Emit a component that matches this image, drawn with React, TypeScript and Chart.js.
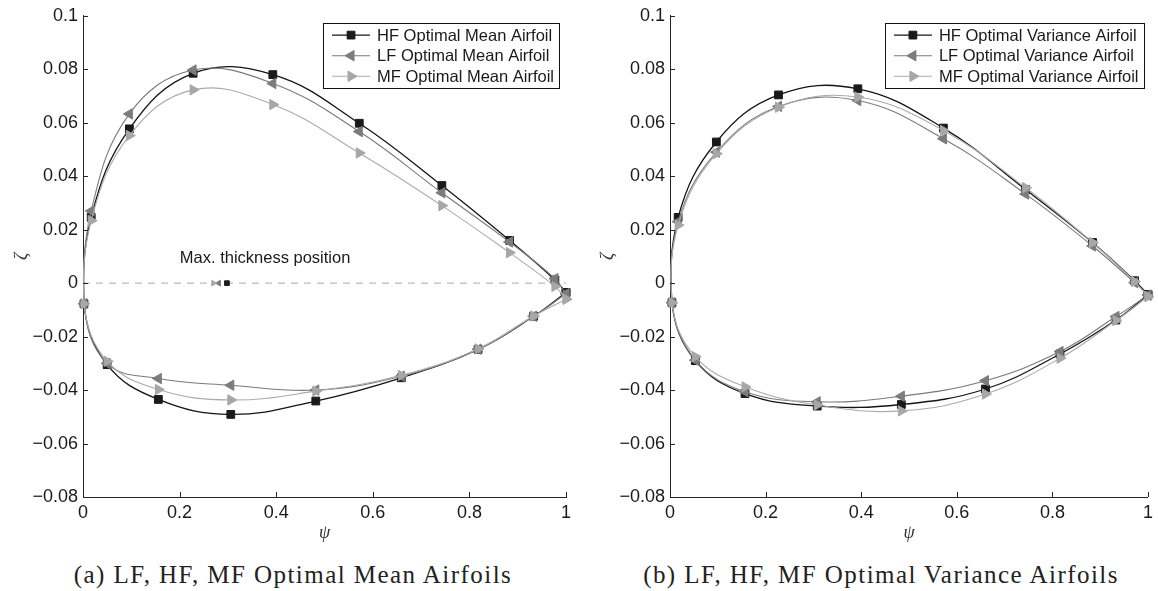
import React, { useEffect, useRef } from "react";
import { Chart, registerables } from "chart.js";
import { drawPoint } from "chart.js/helpers";

Chart.register(...registerables);

// ---------------- data ----------------
// tick labels
const xTickValues = [0, 0.2, 0.4, 0.6, 0.8, 1];
const yTickValues = [-0.08, -0.06, -0.04, -0.02, 0, 0.02, 0.04, 0.06, 0.08, 0.1];

// Panel (a): optimal mean airfoils
// upper surface stations from trailing edge to leading edge, lower surface from leading edge to trailing edge
const meanUpperX = [1.0, 0.977, 0.883, 0.743, 0.572, 0.393, 0.228, 0.096, 0.017];
const meanLowerX = [0.002, 0.05, 0.156, 0.306, 0.482, 0.659, 0.818, 0.933, 1.0];
const meanHfUpper = [-0.0035, 0.0012, 0.016, 0.0365, 0.0598, 0.078, 0.0785, 0.0577, 0.0246];
const meanLfUpper = [-0.004, 0.0017, 0.0154, 0.0338, 0.0567, 0.0747, 0.0797, 0.0633, 0.027];
const meanMfUpper = [-0.006, -0.0012, 0.0114, 0.029, 0.0487, 0.0668, 0.0723, 0.0552, 0.0234];
const meanHfLower = [-0.0077, -0.0305, -0.0435, -0.0491, -0.0441, -0.0354, -0.0248, -0.0124, -0.0035];
const meanLfLower = [-0.0077, -0.03, -0.0357, -0.0382, -0.04, -0.0348, -0.0247, -0.0124, -0.004];
const meanMfLower = [-0.0077, -0.0292, -0.0398, -0.0437, -0.0404, -0.0345, -0.0246, -0.0123, -0.006];
// max thickness positions (psi) for HF, LF, MF
const meanMaxThickness = [0.298, 0.281, 0.27];
const thicknessLineX = [0, 1];
const thicknessLineY = [0, 0];
const noteText = "Max. thickness position";
const notePos = [0.377, 0.0094];

// Panel (b): optimal variance airfoils
const varUpperX = [1.0, 0.972, 0.884, 0.744, 0.572, 0.393, 0.227, 0.097, 0.017];
const varLowerX = [0.004, 0.053, 0.157, 0.308, 0.484, 0.66, 0.816, 0.933, 1.0];
const varHfUpper = [-0.0043, 0.0009, 0.0152, 0.035, 0.058, 0.0727, 0.0704, 0.0528, 0.0246];
const varLfUpper = [-0.0045, 0.0002, 0.0139, 0.0333, 0.054, 0.0683, 0.0661, 0.049, 0.023];
const varMfUpper = [-0.005, 0.0006, 0.0152, 0.0357, 0.0571, 0.0696, 0.0658, 0.0484, 0.0217];
const varHfLower = [-0.0073, -0.029, -0.0413, -0.046, -0.0454, -0.0396, -0.0265, -0.0138, -0.0043];
const varLfLower = [-0.0073, -0.0288, -0.0406, -0.0444, -0.0423, -0.0365, -0.0256, -0.0125, -0.0045];
const varMfLower = [-0.0073, -0.0275, -0.0388, -0.0456, -0.0478, -0.0415, -0.0281, -0.014, -0.005];

const meanLabels = ["HF Optimal Mean Airfoil", "LF Optimal Mean Airfoil", "MF Optimal Mean Airfoil"];
const varLabels = ["HF Optimal Variance Airfoil", "LF Optimal Variance Airfoil", "MF Optimal Variance Airfoil"];
const captions = ["(a) LF, HF, MF Optimal Mean Airfoils", "(b) LF, HF, MF Optimal Variance Airfoils"];

// ---------------- styles ----------------
const SANS = "'Liberation Sans', Arial, Helvetica, sans-serif";
const SERIF = "'Liberation Serif', 'Times New Roman', serif";
const AXIS_COLOR = "#262626";
const TEXT_COLOR = "#1a1a1a";

type Sty = { line: string; fill: string; marker: string; rot: number; r: number; lw: number; order: number };
const STYLES: Sty[] = [
  { line: "#141414", fill: "#1a1a1a", marker: "rect", rot: 0, r: 5.5, lw: 1.3, order: 3 },
  { line: "#7a7a7a", fill: "#7c7c7c", marker: "triangle", rot: -90, r: 6, lw: 1.1, order: 2 },
  { line: "#ababab", fill: "#a7a7a7", marker: "triangle", rot: 90, r: 6, lw: 1.1, order: 1 },
];

function zip(xs: number[], ys: number[]) {
  return xs.map((x, i) => ({ x, y: ys[i] }));
}

function airfoil(label: string, upX: number[], upY: number[], loX: number[], loY: number[], s: Sty) {
  return {
    label,
    data: zip(upX.concat(loX), upY.concat(loY)),
    showLine: true,
    borderColor: s.line,
    backgroundColor: s.fill,
    pointBackgroundColor: s.fill,
    pointBorderColor: s.fill,
    pointBorderWidth: 1,
    pointStyle: s.marker,
    pointRotation: s.rot,
    pointRadius: s.r,
    borderWidth: s.lw,
    tension: 0.4,
    clip: false,
    order: s.order,
    inLegend: true,
  };
}

function marker(x: number, s: Sty) {
  return {
    label: "",
    data: [{ x, y: 0 }],
    showLine: false,
    backgroundColor: s.fill,
    borderColor: s.fill,
    pointBackgroundColor: s.fill,
    pointBorderColor: s.fill,
    pointBorderWidth: 1,
    pointStyle: s.marker,
    pointRotation: s.rot,
    pointRadius: 3.3,
    clip: false,
    order: s.order,
    inLegend: false,
  };
}

// ---------------- plugins ----------------
const inwardTicks = {
  id: "inwardTicks",
  afterDatasetsDraw(chart: any) {
    const { ctx, chartArea, scales } = chart;
    ctx.save();
    ctx.strokeStyle = AXIS_COLOR;
    ctx.lineWidth = 1;
    for (const t of scales.x.ticks) {
      const px = Math.round(scales.x.getPixelForValue(t.value)) + 0.5;
      ctx.beginPath();
      ctx.moveTo(px, chartArea.bottom);
      ctx.lineTo(px, chartArea.bottom - 5);
      ctx.stroke();
    }
    for (const t of scales.y.ticks) {
      const py = Math.round(scales.y.getPixelForValue(t.value)) + 0.5;
      ctx.beginPath();
      ctx.moveTo(chartArea.left, py);
      ctx.lineTo(chartArea.left + 5, py);
      ctx.stroke();
    }
    ctx.restore();
  },
};

const boxLegend = {
  id: "boxLegend",
  afterDatasetsDraw(chart: any, _args: any, opts: any) {
    const { ctx, chartArea } = chart;
    const items = chart.data.datasets.filter((d: any) => d.inLegend);
    ctx.save();
    ctx.font = `16.5px ${SANS}`;
    const textW = Math.max(...items.map((d: any) => ctx.measureText(d.label).width));
    const padL = 9, sample = 38, gap = 7, padR = 5, rowH = 20.6, firstRow = 12.3;
    const w = padL + sample + gap + textW + padR;
    const h = 65;
    const right = chartArea.right - (opts.inset ?? 6);
    const left = right - w;
    const top = chartArea.top + 7;
    ctx.fillStyle = "#ffffff";
    ctx.fillRect(left, top, w, h);
    ctx.strokeStyle = "#111";
    ctx.lineWidth = 1;
    ctx.strokeRect(Math.round(left) + 0.5, Math.round(top) + 0.5, Math.round(w), Math.round(h));
    items.forEach((d: any, i: number) => {
      const y = top + firstRow + i * rowH;
      const x0 = left + padL;
      ctx.strokeStyle = d.borderColor;
      ctx.lineWidth = d.borderWidth;
      ctx.beginPath();
      ctx.moveTo(x0, y);
      ctx.lineTo(x0 + sample, y);
      ctx.stroke();
      ctx.fillStyle = d.pointBackgroundColor;
      ctx.strokeStyle = d.pointBorderColor;
      ctx.lineWidth = 1;
      drawPoint(ctx, { pointStyle: d.pointStyle, rotation: d.pointRotation, radius: d.pointRadius, borderWidth: 1 }, x0 + sample / 2, y);
      ctx.fillStyle = TEXT_COLOR;
      ctx.textAlign = "left";
      ctx.textBaseline = "middle";
      ctx.fillText(d.label, x0 + sample + gap, y + 1);
    });
    ctx.restore();
  },
};

const noteLabel = {
  id: "noteLabel",
  afterDatasetsDraw(chart: any, _args: any, opts: any) {
    if (!opts || !opts.text) return;
    const { ctx, scales } = chart;
    ctx.save();
    ctx.font = `16.5px ${SANS}`;
    ctx.fillStyle = TEXT_COLOR;
    ctx.textAlign = "center";
    ctx.textBaseline = "middle";
    ctx.fillText(opts.text, scales.x.getPixelForValue(opts.x), scales.y.getPixelForValue(opts.y));
    ctx.restore();
  },
};

function fmt(v: number) {
  const s = String(Number(v.toFixed(3)));
  return s.replace("-", "\u2212");
}

function makeConfig(datasets: any[], padLeft: number, yWidth: number, padRight: number, legendInset: number, note: any) {
  return {
    type: "scatter",
    data: { datasets },
    plugins: [inwardTicks, boxLegend, noteLabel],
    options: {
      animation: false,
      responsive: false,
      maintainAspectRatio: false,
      devicePixelRatio: 1,
      layout: { padding: { left: padLeft, right: padRight, top: 15, bottom: 1.2 } },
      plugins: {
        legend: { display: false },
        tooltip: { enabled: false },
        boxLegend: { inset: legendInset },
        noteLabel: note,
      },
      scales: {
        x: {
          type: "linear",
          min: 0,
          max: 1,
          afterBuildTicks: (s: any) => { s.ticks = xTickValues.map((v) => ({ value: v })); },
          afterFit: (s: any) => { s.height = 46.8; },
          grid: { display: false, drawTicks: false },
          border: { display: true, color: AXIS_COLOR, width: 1 },
          ticks: {
            padding: 5,
            color: TEXT_COLOR,
            font: { family: SANS, size: 18 },
            callback: (v: any) => fmt(Number(v)),
            maxRotation: 0,
            autoSkip: false,
          },
          title: {
            display: true,
            text: "\u03C8",
            color: "#333",
            padding: 0,
            font: { family: SERIF, size: 18, style: "italic" },
          },
        },
        y: {
          type: "linear",
          min: -0.08,
          max: 0.1,
          afterBuildTicks: (s: any) => { s.ticks = yTickValues.map((v) => ({ value: v })); },
          afterFit: (s: any) => { s.width = yWidth; },
          grid: { display: false, drawTicks: false },
          border: { display: true, color: AXIS_COLOR, width: 1 },
          ticks: {
            padding: 5,
            color: TEXT_COLOR,
            font: { family: SANS, size: 18 },
            callback: (v: any) => fmt(Number(v)),
            autoSkip: false,
          },
          title: {
            display: true,
            text: "\u03B6",
            color: "#333",
            padding: 0,
            font: { family: SERIF, size: 18, style: "italic" },
          },
        },
      },
    },
  } as any;
}

export default function App() {
  const leftRef = useRef<HTMLCanvasElement | null>(null);
  const rightRef = useRef<HTMLCanvasElement | null>(null);

  useEffect(() => {
    const meanSets = [
      airfoil(meanLabels[0], meanUpperX, meanHfUpper, meanLowerX, meanHfLower, STYLES[0]),
      airfoil(meanLabels[1], meanUpperX, meanLfUpper, meanLowerX, meanLfLower, STYLES[1]),
      airfoil(meanLabels[2], meanUpperX, meanMfUpper, meanLowerX, meanMfLower, STYLES[2]),
      {
        label: "",
        data: zip(thicknessLineX, thicknessLineY),
        showLine: true,
        borderColor: "#a9a9a9",
        borderWidth: 1,
        borderDash: [7, 6],
        pointRadius: 0,
        order: 10,
        inLegend: false,
      },
      marker(meanMaxThickness[0], STYLES[0]),
      marker(meanMaxThickness[1], STYLES[1]),
      marker(meanMaxThickness[2], STYLES[2]),
    ];
    const varSets = [
      airfoil(varLabels[0], varUpperX, varHfUpper, varLowerX, varHfLower, STYLES[0]),
      airfoil(varLabels[1], varUpperX, varLfUpper, varLowerX, varLfLower, STYLES[1]),
      airfoil(varLabels[2], varUpperX, varMfUpper, varLowerX, varMfLower, STYLES[2]),
    ];
    const c1 = new Chart(leftRef.current as HTMLCanvasElement,
      makeConfig(meanSets, 11, 72, 14, 7, { text: noteText, x: notePos[0], y: notePos[1] }));
    const c2 = new Chart(rightRef.current as HTMLCanvasElement,
      makeConfig(varSets, 17, 73, 5, 4.5, { text: "" }));
    return () => {
      c1.destroy();
      c2.destroy();
    };
  }, []);

  const capStyle = (center: number): React.CSSProperties => ({
    position: "absolute",
    left: center - 300,
    width: 600,
    top: 560,
    lineHeight: "30px",
    textAlign: "center",
    fontFamily: SERIF,
    fontSize: 25,
    letterSpacing: "1.45px",
    color: "#222",
    whiteSpace: "nowrap",
  });

  return (
    <div style={{ position: "fixed", left: 0, top: 0, width: 1158, height: 591, background: "#fff", overflow: "hidden" }}>
      <canvas ref={leftRef} width={580} height={545} style={{ position: "absolute", left: 0, top: 0, width: 580, height: 545 }} />
      <canvas ref={rightRef} width={578} height={545} style={{ position: "absolute", left: 580, top: 0, width: 578, height: 545 }} />
      <div style={capStyle(293)}>{captions[0]}</div>
      <div style={capStyle(881)}>{captions[1]}</div>
    </div>
  );
}
